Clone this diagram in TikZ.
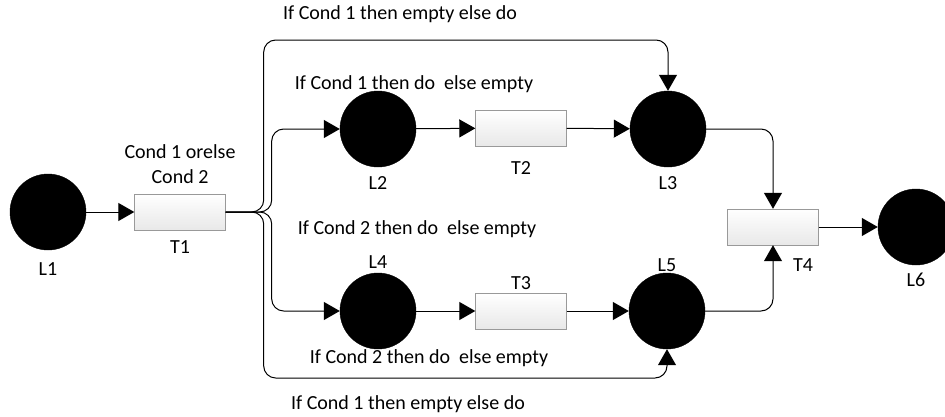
\documentclass[tikz,border=0pt]{standalone}
\usepackage{fontspec}
\setmainfont{Carlito}
\usetikzlibrary{arrows.meta}
\begin{document}
\begin{tikzpicture}[x=1pt,y=-1pt,
  place/.style={circle,fill=black,draw=black,minimum size=76pt,inner sep=0pt},
  trans/.style={rectangle,draw=gray!80,top color=white,bottom color=gray!18,
    minimum width=91pt,minimum height=36pt,inner sep=0pt},
  lbl/.style={inner sep=0pt,font=\fontsize{20}{23}\selectfont},
  arc/.style={line width=1pt,-{Triangle[length=16pt,width=18pt]},rounded corners=12pt}]
\useasboundingbox (0,0) rectangle (945,416);

% places and transitions
\node[place] (L1) at (48,212) {};
\node[trans] (T1) at (180,212) {};
\node[place] (L2) at (378,129) {};
\node[trans] (T2) at (521,128) {};
\node[place] (L3) at (668,129) {};
\node[place] (L4) at (378,311) {};
\node[trans] (T3) at (521,311) {};
\node[place] (L5) at (667,311) {};
\node[trans] (T4) at (773,227) {};
\node[place] (L6) at (916,227) {};

% labels
\node[lbl] (nL1) at (48,269) {L1};
\node[lbl] (nT1) at (180,247) {T1};
\node[lbl] (nL2) at (378,183) {L2};
\node[lbl] (nT2) at (521,168) {T2};
\node[lbl] (nL3) at (668,183) {L3};
\node[lbl] (nL4) at (378,262) {L4};
\node[lbl] (nT3) at (521,283) {T3};
\node[lbl] (nL5) at (667,265) {L5};
\node[lbl] (nT4) at (803,265) {T4};
\node[lbl] (nL6) at (916,280) {L6};
\node[lbl] (c1) at (180,152) {Cond 1 orelse};
\node[lbl] (c2) at (180,177) {Cond 2};

% branch conditions
\node[lbl] (b1) at (400,14) {If Cond 1 then empty else do};
\node[lbl] (b2) at (414,84) {If Cond 1 then do\ \ else empty};
\node[lbl] (b3) at (417,229) {If Cond 2 then do\ \ else empty};
\node[lbl] (b4) at (429,358) {If Cond 2 then do\ \ else empty};
\node[lbl] (b5) at (408,404) {If Cond 1 then empty else do};

% arcs
\draw[arc] (L1) -- (T1);
\draw[arc] (T1.east) -- ++(38,0) -- ++(0,-172) -| (L3.north);
\draw[arc] (T1.east) -- ++(46,0) |- (L2.west);
\draw[arc] (T1.east) -- ++(46,0) |- (L4.west);
\draw[arc] (T1.east) -- ++(38,0) -- ++(0,166) -| (L5.south);
\draw[arc] (L2) -- (T2);
\draw[arc] (T2) -- (L3);
\draw[arc] (L4) -- (T3);
\draw[arc] (T3) -- (L5);
\draw[arc] (L3.east) -| (T4.north);
\draw[arc] (L5.east) -| (T4.south);
\draw[arc] (T4) -- (L6);
\end{tikzpicture}
\end{document}
